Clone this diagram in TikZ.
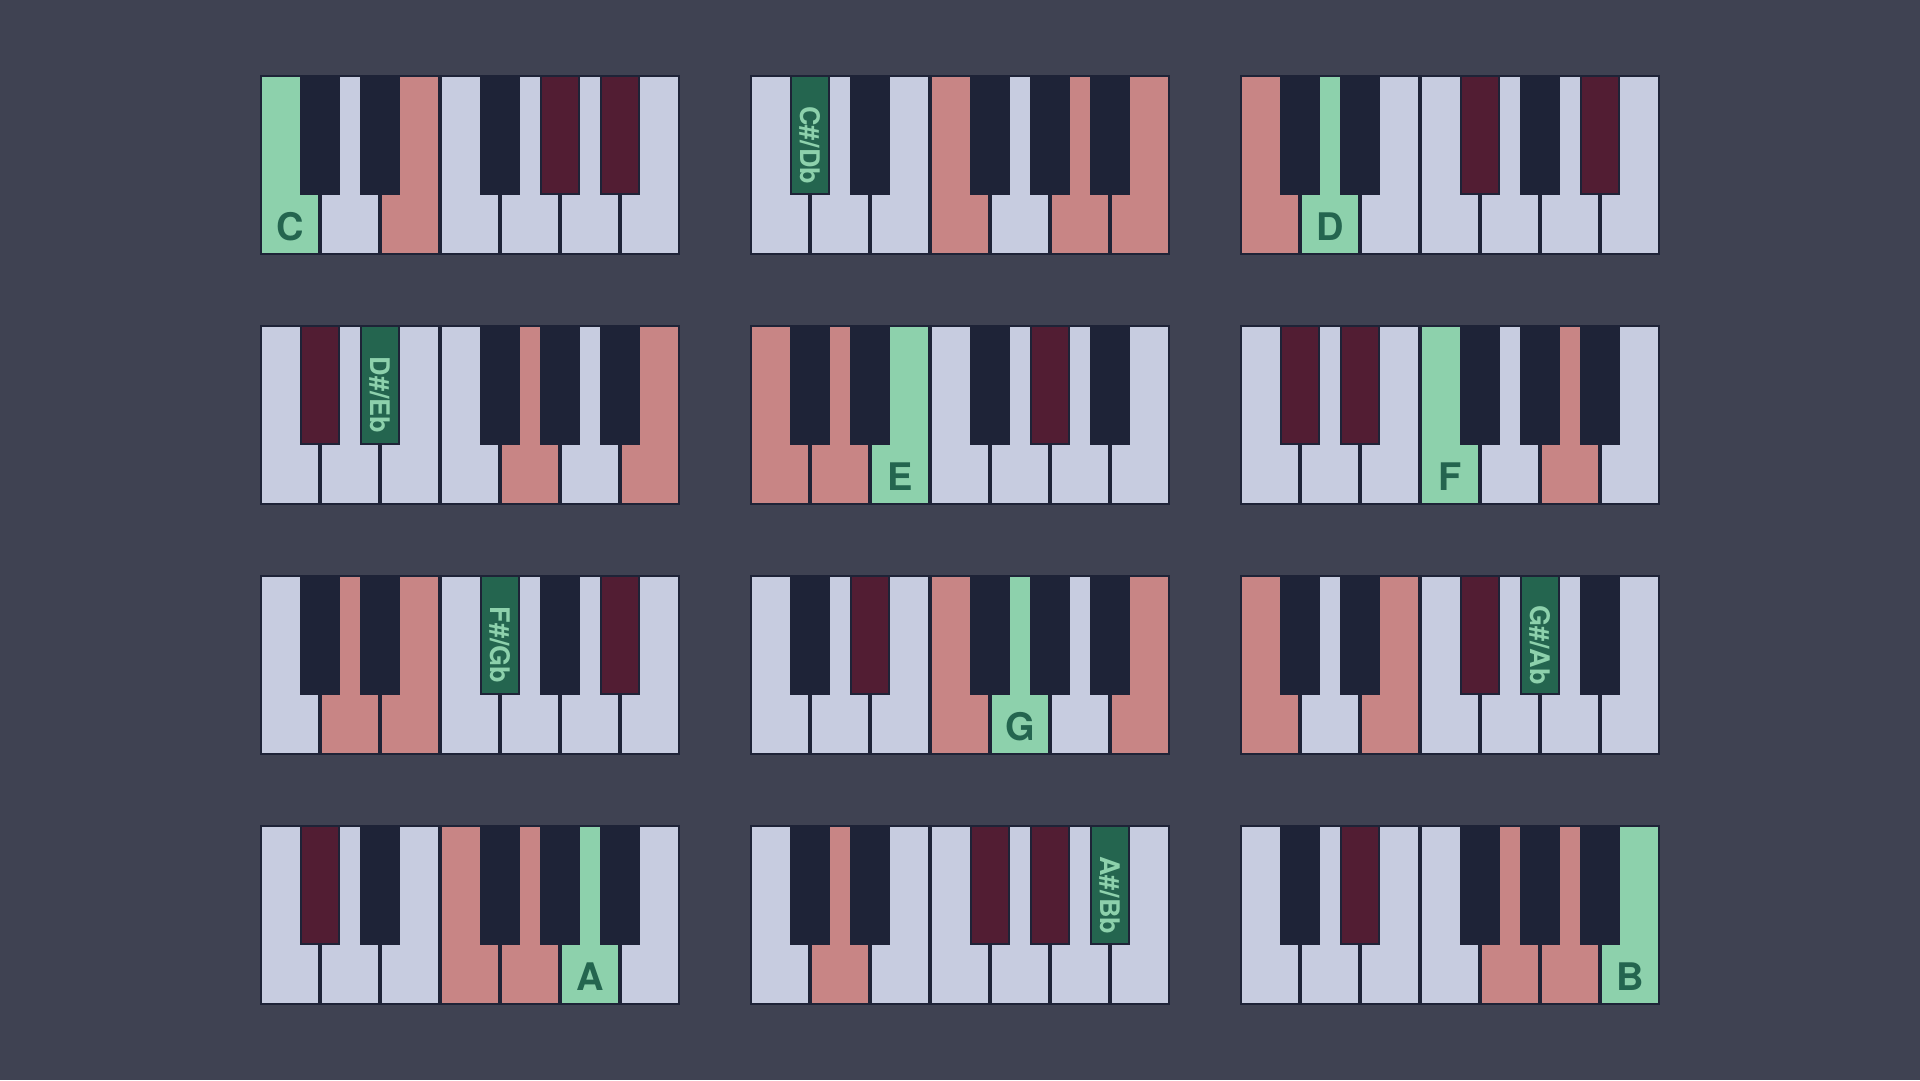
\documentclass[tikz,border=0pt]{standalone}
\usepackage{fontspec}
\setmainfont{TeX Gyre Heros}
\definecolor{bg}{HTML}{3F4252}
\definecolor{keydark}{HTML}{1E2337}
\definecolor{keywhite}{HTML}{C7CCE0}
\definecolor{rootgreen}{HTML}{8DD1AC}
\definecolor{rootdark}{HTML}{24654F}
\definecolor{tonered}{HTML}{C88585}
\definecolor{tonemaroon}{HTML}{521D33}
\tikzset{
  whitelabel/.style={font=\bfseries\fontsize{38}{40}\selectfont, text=rootdark, inner sep=0pt, anchor=base},
  blacklabel/.style={font=\bfseries\fontsize{27}{29}\selectfont, text=rootgreen, inner sep=0pt, rotate=-90, anchor=center},
}
\newcommand\kbd[5]{% #1 X, #2 Y, #3 root semitone, #4 label, #5 name
 \begin{scope}[shift={(#1,#2)}]
  \fill[keydark] (0,0) rectangle (420,180);
  \foreach \i/\s in {0/0,1/2,2/4,3/5,4/7,5/9,6/11}{
    \pgfmathtruncatemacro\d{mod(\s-#3+12,12)}
    \ifnum\d=0 \def\col{rootgreen}\else
      \ifnum\d=4 \def\col{tonered}\else
      \ifnum\d=8 \def\col{tonered}\else
      \ifnum\d=10 \def\col{tonered}\else \def\col{keywhite}\fi\fi\fi\fi
    \fill[\col] (60*\i+2,2) rectangle (60*\i+58,178);
    \ifnum\d=0 \node[whitelabel] (lbl#5) at (60*\i+30,165) {#4};\fi
  }
  \foreach \c/\s in {60/1,120/3,240/6,300/8,360/10}{
    \pgfmathtruncatemacro\d{mod(\s-#3+12,12)}
    \fill[keydark] (\c-20,0) rectangle (\c+20,120);
    \ifnum\d=0
      \fill[rootdark] (\c-18,2) rectangle (\c+18,118);
      \node[blacklabel] (lbl#5) at (\c,70) {#4};
    \else
      \ifnum\d=4 \fill[tonemaroon] (\c-18,2) rectangle (\c+18,118);\fi
      \ifnum\d=8 \fill[tonemaroon] (\c-18,2) rectangle (\c+18,118);\fi
      \ifnum\d=10 \fill[tonemaroon] (\c-18,2) rectangle (\c+18,118);\fi
    \fi
  }
 \end{scope}}
\begin{document}
\begin{tikzpicture}[x=1pt,y=-1pt]
\fill[bg] (0,0) rectangle (1920,1080);
\useasboundingbox (0,0) rectangle (1920,1080);
\kbd{260}{75}{0}{C}{c}
\kbd{750}{75}{1}{C\#/Db}{cs}
\kbd{1240}{75}{2}{D}{d}
\kbd{260}{325}{3}{D\#/Eb}{ds}
\kbd{750}{325}{4}{E}{e}
\kbd{1240}{325}{5}{F}{f}
\kbd{260}{575}{6}{F\#/Gb}{fs}
\kbd{750}{575}{7}{G}{g}
\kbd{1240}{575}{8}{G\#/Ab}{gs}
\kbd{260}{825}{9}{A}{a}
\kbd{750}{825}{10}{A\#/Bb}{as}
\kbd{1240}{825}{11}{B}{b}
\end{tikzpicture}
\end{document}
